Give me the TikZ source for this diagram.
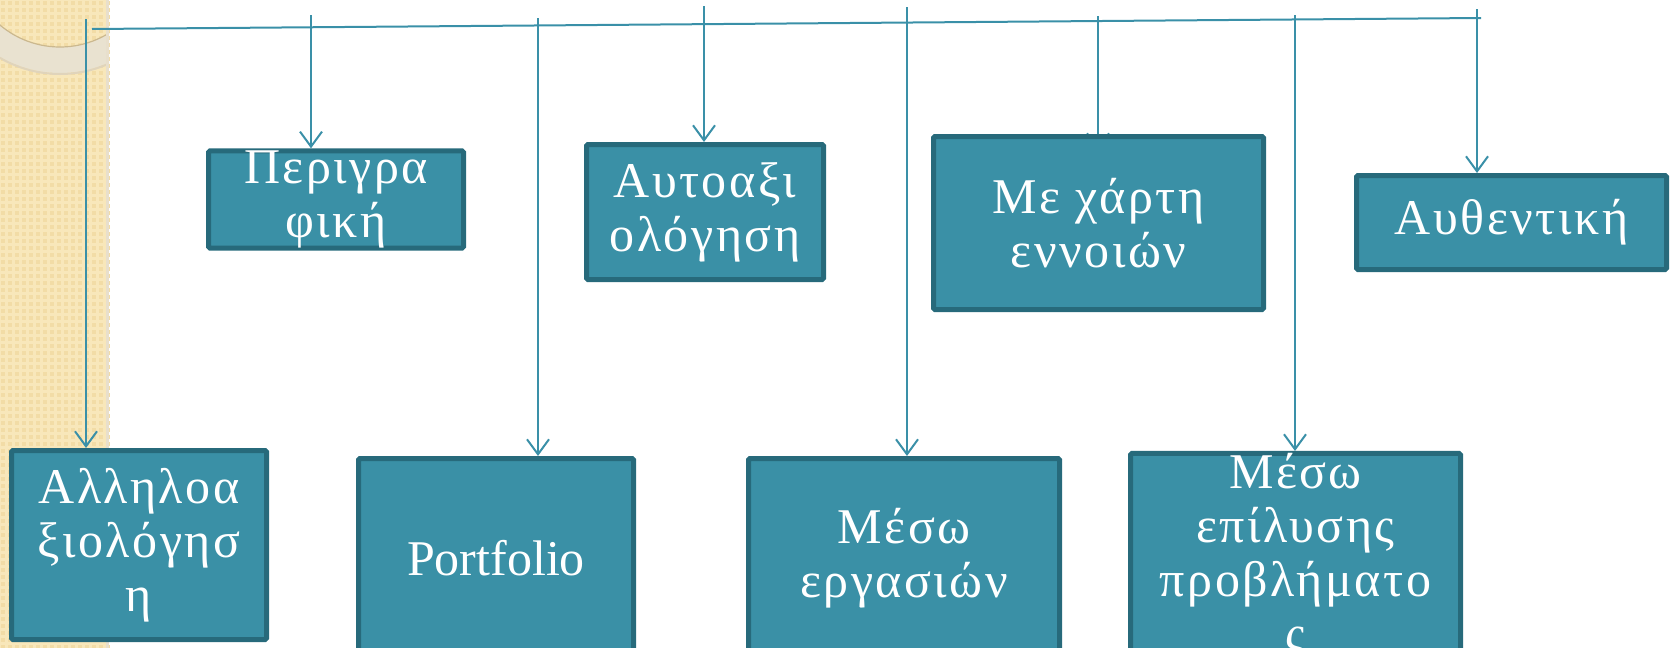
\documentclass[tikz,border=0pt]{standalone}
\usepackage{fontspec}
\setmainfont[LetterSpace=5]{Liberation Serif}
\newfontfamily\latinfont{Liberation Serif}
\usepackage{xcolor}
\usepackage{tikz}
\usetikzlibrary{arrows.meta,backgrounds,calc}

\definecolor{boxfill}{HTML}{3A90A6}
\definecolor{boxedge}{HTML}{276A7B}
\definecolor{linkcol}{HTML}{3A90A8}
\definecolor{strip}{HTML}{F8E7BA}
\definecolor{stripdot}{HTML}{F2DCA6}
\definecolor{ring}{HTML}{E9E2D0}
\definecolor{ringedge}{HTML}{CBB88E}

\tikzset{
  box/.style={draw=boxedge, line width=5pt, fill=boxfill, text=white, rounded corners=1.5pt,
    align=center, inner sep=0pt, font=\fontsize{50}{54}\selectfont},
  link/.style={draw=linkcol, line width=2pt, -{Straight Barb[length=15pt,width=22pt]}},
  bus/.style={draw=linkcol, line width=2pt}
}

\begin{document}
\begin{tikzpicture}[x=1pt, y=-1pt]
\useasboundingbox (0,0) rectangle (1671,648);
\clip (0,0) rectangle (1671,648);

% upper row
\node[box, minimum width=255pt, minimum height=94pt] (descr) at (336,199.5) {Περιγρα\\φική};
\node[box, minimum width=237pt, minimum height=135pt] (self) at (705,212) {Αυτοαξι\\ολόγηση};
\node[box, minimum width=330pt, minimum height=173pt] (map) at (1098.5,223) {Με χάρτη\\εννοιών};
\node[box, minimum width=310pt, minimum height=94pt] (auth) at (1511.5,222.5) {Αυθεντική};

% lower row
\node[box, minimum width=255pt, minimum height=189pt] (allo) at (139,545) {Αλληλοα\\ξιολόγησ\\η};
\node[box, minimum width=275pt, minimum height=199pt] (portf) at (496,558) {\latinfont Portfolio};
\node[box, minimum width=311pt, minimum height=199pt] (works) at (904,558) {Μέσω\\εργασιών};
\node[box, minimum width=330pt, minimum height=202pt] (probl) at (1295.5,556.5) {Μέσω\\επίλυσης\\προβλήματο\\ς};

\coordinate (busL) at (92,29);
\coordinate (busR) at (1481,18);
\coordinate (t1) at (86,19);
\coordinate (t2) at (311,15);
\coordinate (t3) at (538,18);
\coordinate (t4) at (704,6);
\coordinate (t5) at (907,7);
\coordinate (t6) at (1098,16);
\coordinate (t7) at (1295,15);
\coordinate (t8) at (1477,9);

\begin{scope}[on background layer]
% side strip
\fill[strip] (0,0) rectangle (109,648);
\foreach \i in {0,...,15}
  \foreach \j in {0,...,92}
    \fill[stripdot] (\i*7+1,\j*7+1) rectangle ++(4,4);
\begin{scope}
\clip (0,0) rectangle (109,648);
\fill[ring, even odd rule] (60,-46) circle[radius=119] (60,-46) circle[radius=93];
\draw[ringedge, line width=1.2pt] (60,-46) circle[radius=93];
\draw[ringedge!60, line width=2pt] (60,-46) circle[radius=120];
\end{scope}
\fill[ringedge!45] (106,0) rectangle (109,648);

% connectors
\draw[bus] (busL) -- (busR);
\draw[link] (t1) -- (t1 |- allo.north);
\draw[link] (t2) -- (t2 |- descr.north);
\draw[link] (t3) -- (t3 |- portf.north);
\draw[link] (t4) -- (t4 |- self.north);
\draw[link] (t5) -- (t5 |- works.north);
\draw[link] (t6) -- ($(t6 |- map.north)+(0,16)$);
\draw[link] (t7) -- (t7 |- probl.north);
\draw[link] (t8) -- (t8 |- auth.north);
\end{scope}
\end{tikzpicture}
\end{document}
